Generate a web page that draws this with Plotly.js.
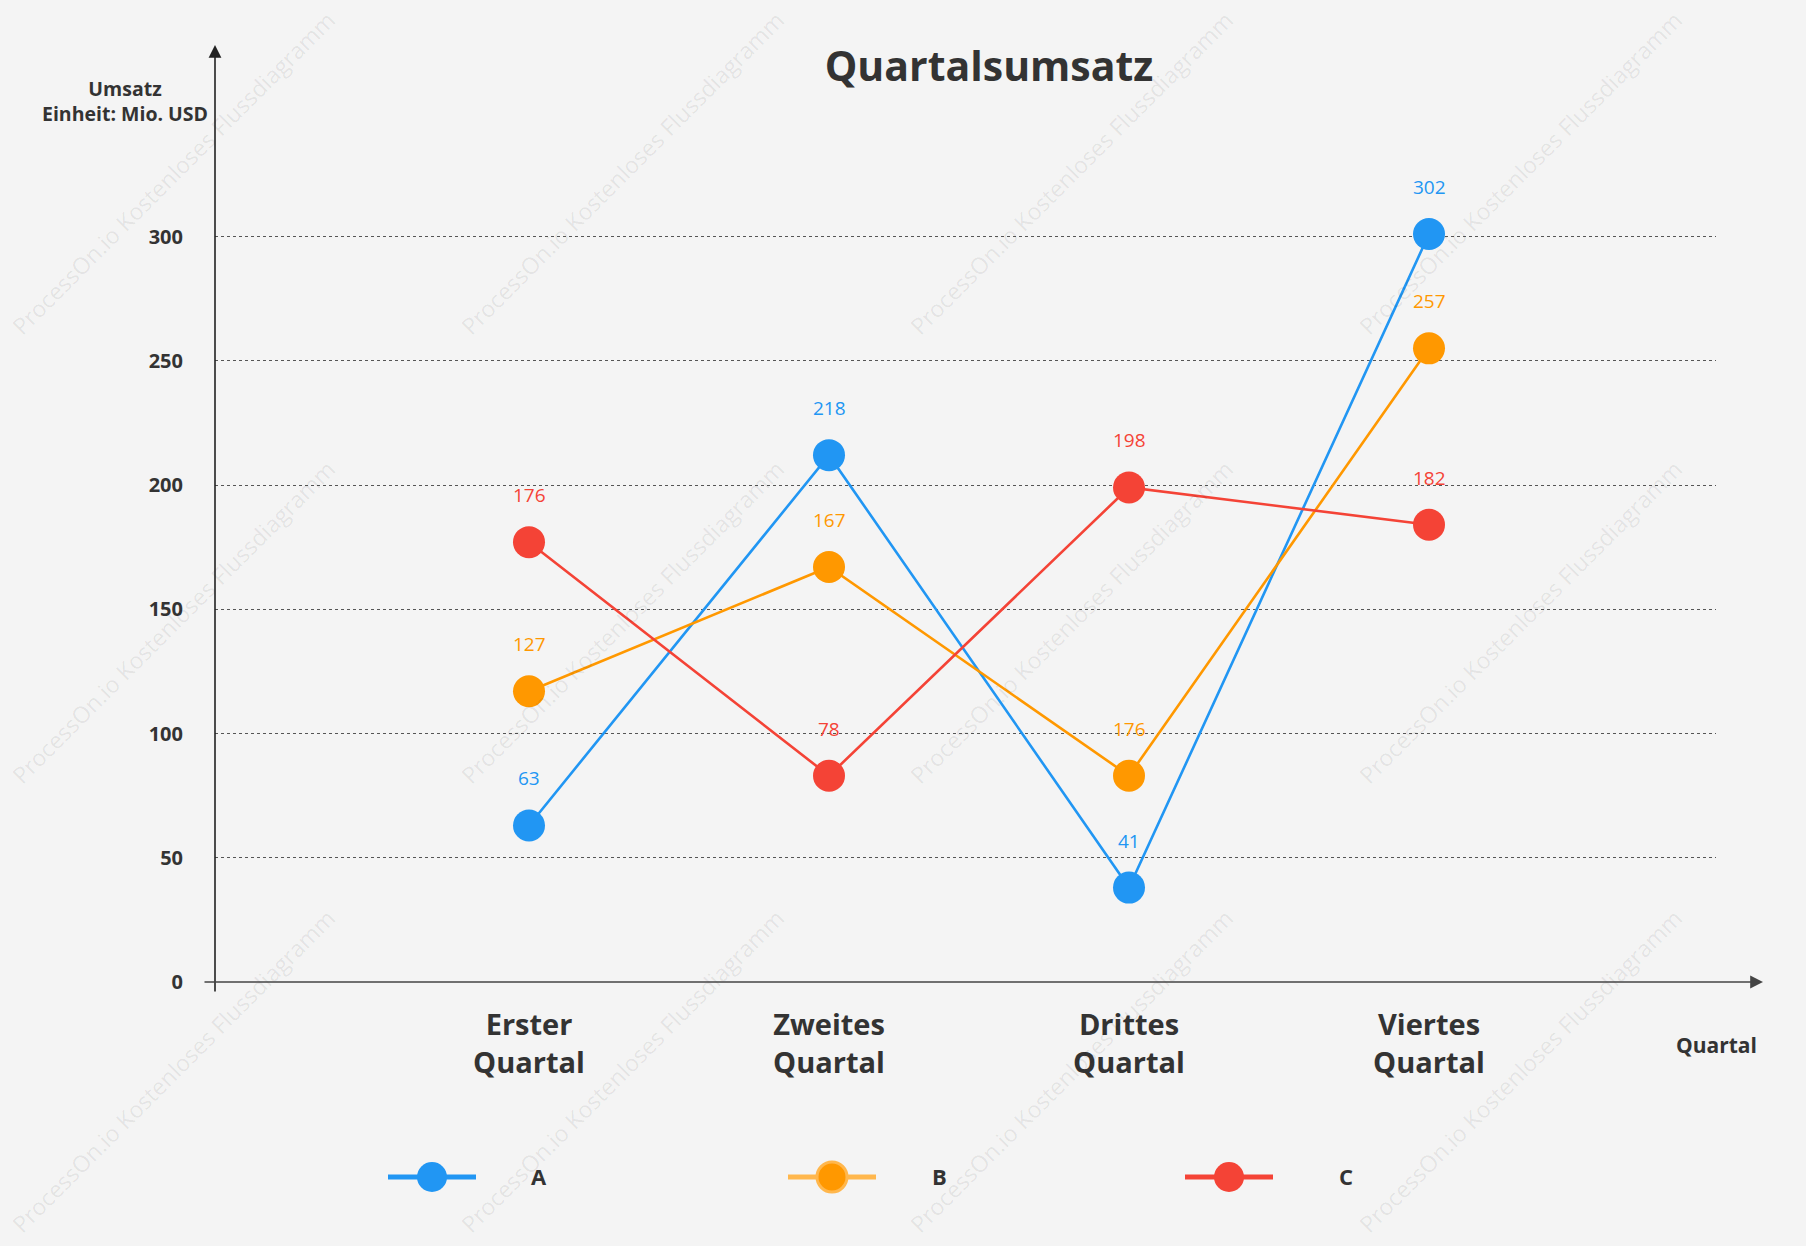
<!DOCTYPE html>
<html>
<head>
<meta charset="utf-8">
<script src="https://cdn.plot.ly/plotly-3.0.1.min.js"></script>
<style>
  html, body { margin: 0; padding: 0; background: #f4f4f4; }
  #chart { width: 1806px; height: 1246px; }
</style>
</head>
<body>
<div id="chart"></div>
<script>
// ---- data ----
const categories = ['Erster<br>Quartal', 'Zweites<br>Quartal', 'Drittes<br>Quartal', 'Viertes<br>Quartal'];
const seriesNames = ['A', 'B', 'C'];
const valuesA = [63, 212, 38, 301];
const valuesB = [117, 167, 83, 255];
const valuesC = [177, 83, 199, 184];
const labelsA = ['63', '218', '41', '302'];
const labelsB = ['127', '167', '176', '257'];
const labelsC = ['176', '78', '198', '182'];
const yTickVals = [0, 50, 100, 150, 200, 250, 300];
const yTickText = ['0', '50', '100', '150', '200', '250', '300'];
const chartTitle = 'Quartalsumsatz';
const yTitle = 'Umsatz<br>Einheit: Mio. USD';
const xTitle = 'Quartal';
const watermarkText = 'ProcessOn.io Kostenloses Flussdiagramm';

// ---- styles ----
const colors = ['#2196F3', '#FF9800', '#F44336'];
const legendLineColors = ['#2196F3', '#FFB74D', '#F44336'];
const FONT = '"Open Sans", "Noto Sans", sans-serif';
const TXT = '#333333';

const W = 1806, H = 1246;
const L = 215, R = 90, T = 45, B = 264;
const plotW = W - L - R, plotH = H - T - B;
const px2x = px => (px - L) / plotW;
const py2y = py => (H - B - py) / plotH;

const allValues = [valuesA, valuesB, valuesC];
const allLabels = [labelsA, labelsB, labelsC];

const traces = allValues.map((vals, i) => ({
  type: 'scatter',
  mode: 'lines+markers',
  name: seriesNames[i],
  x: categories,
  y: vals,
  line: { color: colors[i], width: 2.6 },
  marker: { color: colors[i], size: 32, line: { width: 0 } },
  showlegend: false,
  hoverinfo: 'skip'
}));

const annotations = [];

// watermark (drawn first, underneath other annotations)
const wmX = [173, 622, 1071, 1520];
const wmY = [173, 622, 1071];
wmY.forEach(y => wmX.forEach(x => {
  annotations.push({
    xref: 'paper', yref: 'paper', x: px2x(x), y: py2y(y),
    xanchor: 'center', yanchor: 'middle',
    text: watermarkText, showarrow: false, textangle: -45,
    font: { family: FONT, size: 23, color: 'rgba(0,0,0,0.08)' }
  });
}));

// data labels
allValues.forEach((vals, i) => {
  vals.forEach((v, j) => {
    annotations.push({
      x: categories[j], y: v, xref: 'x', yref: 'y',
      xanchor: 'center', yanchor: 'middle',
      text: allLabels[i][j], showarrow: false, yshift: 47,
      font: { family: FONT, size: 19, color: colors[i] }
    });
  });
});

// axis arrows
annotations.push({
  xref: 'paper', yref: 'paper', x: 0, y: 1, ax: 0, ay: 948,
  axref: 'pixel', ayref: 'pixel', text: '', showarrow: true,
  arrowhead: 2, arrowsize: 1.6, arrowwidth: 1.6, arrowcolor: '#222', standoff: 0
});
annotations.push({
  xref: 'paper', yref: 'paper', x: px2x(1763), y: 0, ax: -1560, ay: 0,
  axref: 'pixel', ayref: 'pixel', text: '', showarrow: true,
  arrowhead: 2, arrowsize: 1.6, arrowwidth: 1.6, arrowcolor: '#444', standoff: 0
});

// axis titles
annotations.push({
  xref: 'paper', yref: 'paper', x: px2x(125), y: py2y(101),
  xanchor: 'center', yanchor: 'middle',
  text: '<b>' + yTitle + '</b>', showarrow: false, align: 'center',
  font: { family: FONT, size: 19.5, color: TXT }
});
annotations.push({
  xref: 'paper', yref: 'paper', x: px2x(1716), y: py2y(1045),
  xanchor: 'center', yanchor: 'middle',
  text: '<b>' + xTitle + '</b>', showarrow: false,
  font: { family: FONT, size: 21, color: TXT }
});

// legend (custom, larger symbols)
const legendCentersPx = [432, 832, 1229];
const legendTextPx = [539, 939, 1346];
const legendYpx = 1177;
const shapes = [];
seriesNames.forEach((name, i) => {
  const cx = legendCentersPx[i];
  shapes.push({
    type: 'line', xref: 'paper', yref: 'paper', layer: 'above',
    x0: px2x(cx - 44), x1: px2x(cx + 44), y0: py2y(legendYpx), y1: py2y(legendYpx),
    line: { color: legendLineColors[i], width: 5 }
  });
  shapes.push({
    type: 'circle', xref: 'paper', yref: 'paper', layer: 'above',
    xsizemode: 'pixel', ysizemode: 'pixel',
    xanchor: px2x(cx), yanchor: py2y(legendYpx),
    x0: -15, x1: 15, y0: -15, y1: 15,
    fillcolor: colors[i],
    line: { color: legendLineColors[i], width: i === 1 ? 3 : 0 }
  });
  annotations.push({
    xref: 'paper', yref: 'paper', x: px2x(legendTextPx[i]), y: py2y(legendYpx - 1),
    xanchor: 'center', yanchor: 'middle',
    text: '<b>' + name + '</b>', showarrow: false,
    font: { family: FONT, size: 22, color: TXT }
  });
});

const r0 = -(529 - L) / 300;
const layout = {
  width: W, height: H,
  margin: { l: L, r: R, t: T, b: B },
  paper_bgcolor: '#f4f4f4',
  plot_bgcolor: '#f4f4f4',
  font: { family: FONT, color: TXT },
  title: {
    text: '<b>' + chartTitle + '</b>',
    x: px2x(989), xref: 'paper', xanchor: 'center',
    y: 1 - 67 / H, yref: 'container', yanchor: 'middle',
    font: { family: FONT, size: 41, color: TXT }
  },
  xaxis: {
    type: 'category',
    range: [r0, r0 + plotW / 300],
    showgrid: false, zeroline: false, showline: false,
    ticks: '', ticklabelstandoff: 23,
    tickfont: { family: FONT, size: 29, color: TXT, weight: 'bold' },
    fixedrange: true
  },
  yaxis: {
    range: [0, 937 / 2.485],
    tickvals: yTickVals, ticktext: yTickText,
    showgrid: true, gridcolor: '#555', griddash: 'dot', gridwidth: 1,
    zeroline: false, showline: false, ticks: '',
    ticklabelstandoff: 31,
    tickfont: { family: FONT, size: 20, color: TXT, weight: 'bold' },
    fixedrange: true
  },
  annotations: annotations,
  shapes: shapes,
  showlegend: false
};

Plotly.newPlot('chart', traces, layout, { displayModeBar: false, staticPlot: true });
</script>
</body>
</html>
